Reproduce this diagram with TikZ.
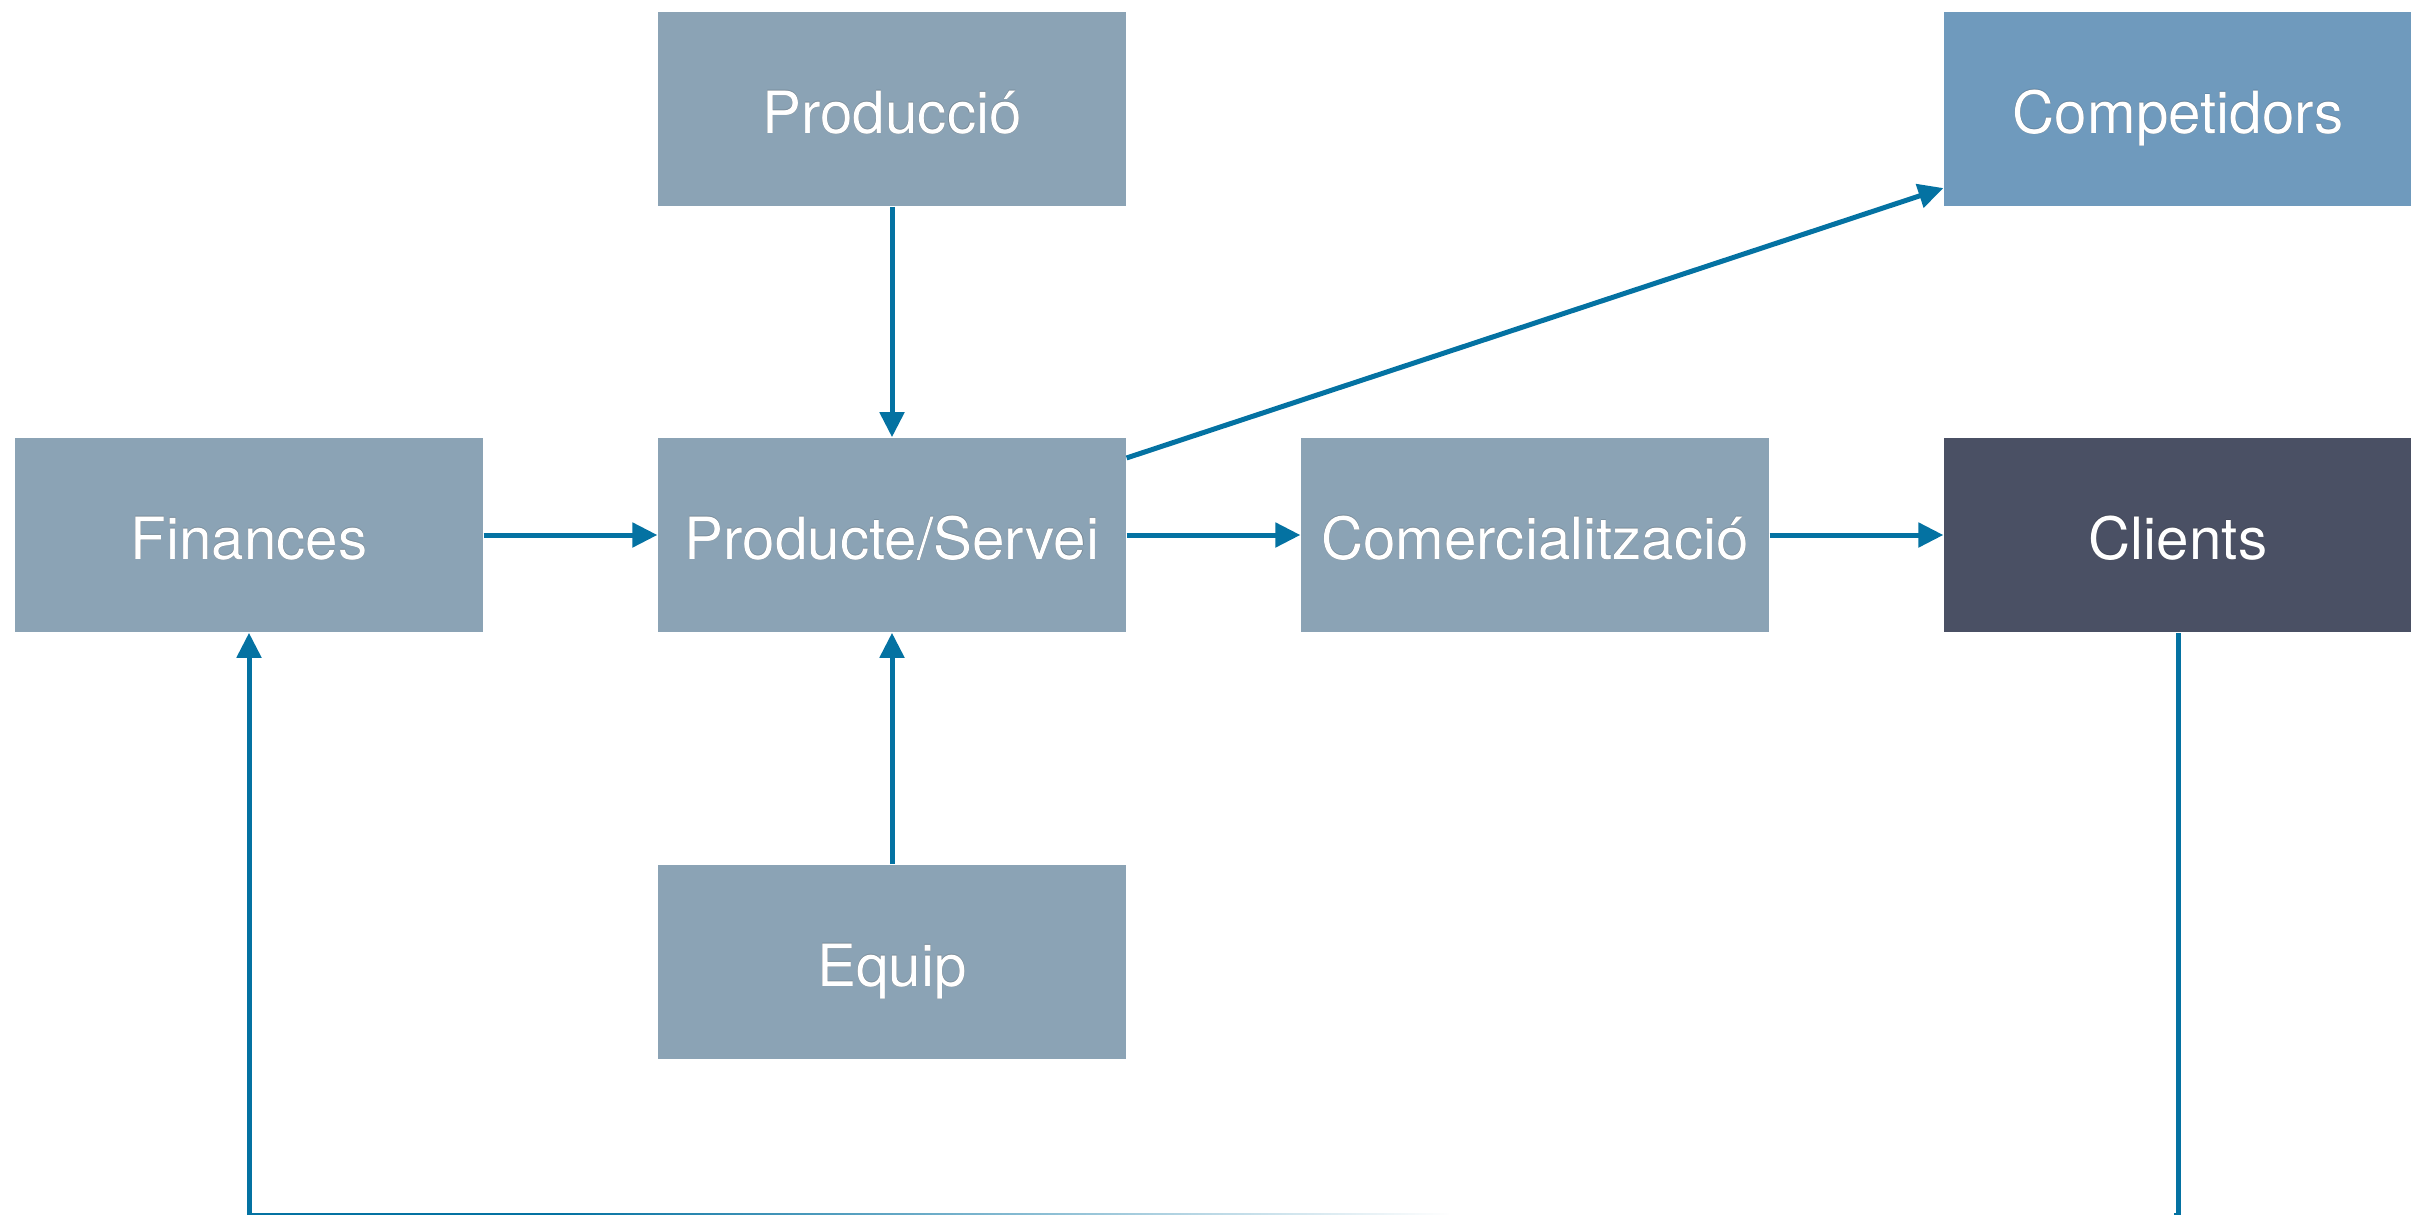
\documentclass[tikz,border=0pt]{standalone}
\usepackage{fontspec}
\setmainfont{TeX Gyre Heros}
\usetikzlibrary{arrows.meta,fadings}

\definecolor{boxgrey}{RGB}{139,163,181}
\definecolor{boxblue}{RGB}{111,154,189}
\definecolor{boxdark}{RGB}{74,80,100}
\definecolor{linkblue}{RGB}{4,114,162}

% white label with a soft drop shadow, on a fixed baseline
\newcommand{\shadowlabel}[1]{%
  \tikz[baseline=(t.base)]{%
    \foreach \dx/\dy/\op in {0/-0.06/0.10,0.025/-0.045/0.12,-0.025/-0.045/0.12,0/-0.035/0.18,0/-0.015/0.18}{%
      \node[inner sep=0pt,text height=0.6cm,text depth=0.12cm,text=black,opacity=\op] at (\dx,\dy) {#1};}
    \node[inner sep=0pt,text height=0.6cm,text depth=0.12cm,text=white] (t) at (0,0) {#1};}}

\tikzset{
  block/.style={rectangle, inner sep=0pt, minimum width=4.675cm, minimum height=1.94cm,
    font=\fontsize{16.6}{20}\selectfont},
  conn/.style={draw=linkblue, line width=0.05cm, -{Triangle[length=0.25cm,width=0.24cm]}}
}

\begin{document}
\begin{tikzpicture}[x=0.01cm,y=-0.01cm]
  \useasboundingbox (0,0) rectangle (2411,1215);
  \clip (0,0) rectangle (2411,1215);

  % boxes
  \node[block, fill=boxgrey] (prod) at (892,109)  {\shadowlabel{Producció}};
  \node[block, fill=boxblue] (comp) at (2178,109) {\shadowlabel{Competidors}};
  \node[block, fill=boxgrey] (fin)  at (249,535)  {\shadowlabel{Finances}};
  \node[block, fill=boxgrey] (ps)   at (892,535)  {\shadowlabel{Producte/Servei}};
  \node[block, fill=boxgrey] (com)  at (1535,535) {\shadowlabel{Comercialització}};
  \node[block, fill=boxdark] (cli)  at (2178,535) {\shadowlabel{Clients}};
  \node[block, fill=boxgrey] (eq)   at (892,962)  {\shadowlabel{Equip}};

  % connectors
  \draw[conn] (prod) -- (ps);
  \draw[conn] (eq) -- (ps);
  \draw[conn] (fin) -- (ps);
  \draw[conn] (ps) -- (com);
  \draw[conn] (com) -- (cli);
  \draw[conn] ([yshift=0.77cm]ps.east) -- ([yshift=-0.79cm]comp.west);

  % return loop along the bottom edge
  \coordinate (bot) at (0,1215);
  \draw[conn] (cli.south) -- (cli.south |- bot) -| (fin.south);

  % the bottom run dies away towards the right
  \fill[white, path fading=west] (560,1195) rectangle (1450,1216);
  \fill[white] (1449,1195) rectangle (2174,1216);
\end{tikzpicture}
\end{document}
